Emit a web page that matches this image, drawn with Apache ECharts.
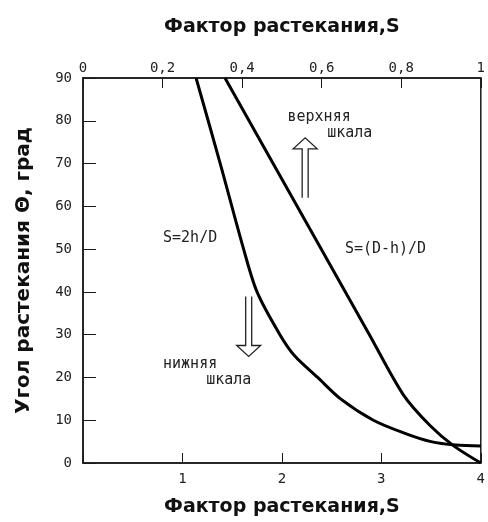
<!DOCTYPE html>
<html>
<head>
<meta charset="utf-8">
<script src="https://cdn.jsdelivr.net/npm/echarts@6/dist/echarts.min.js"></script>
<style>
html, body { margin: 0; padding: 0; background: #fff; }
#chart { width: 488px; height: 522px; }
</style>
</head>
<body>
<div id="chart"></div>
<script>
// нижняя шкала: S=2h/D
const lowS = [1.137, 1.38, 1.615, 1.75, 1.98, 2.13, 2.36, 2.59, 2.92, 3.23, 3.50, 3.75, 4.0];
const lowTheta = [90, 70, 50, 40, 30, 25, 20, 15, 10, 7, 5, 4.2, 4.0];
// верхняя шкала: S=(D-h)/D
const upS = [0.357, 0.720, 0.805, 0.873, 0.932, 1.0];
const upTheta = [90, 30, 16, 8.7, 4.0, 0];

const axisTitle = "Фактор растекания,S";
const yTitle = "Угол растекания \u0398, град";

const ink = "#1a1a1a";
const tickFont = "DejaVu Sans Mono";
const titleFont = { fontFamily: "DejaVu Sans", fontWeight: "bold", fontSize: 19, color: "#111" };

const chart = echarts.init(document.getElementById("chart"));

chart.setOption({
  backgroundColor: "#fff",
  animation: false,
  grid: {
    left: 83,
    right: 4,
    top: 78,
    bottom: 58,
    show: true,
    borderColor: ink,
    borderWidth: 1.5
  },
  xAxis: [
    {
      type: "value",
      position: "bottom",
      min: 0,
      max: 4,
      interval: 1,
      name: axisTitle,
      nameLocation: "middle",
      nameGap: 35,
      nameTextStyle: titleFont,
      axisLine: { lineStyle: { color: ink, width: 1.5 } },
      axisTick: { inside: true, length: 10, lineStyle: { color: ink } },
      axisLabel: {
        margin: 9,
        fontFamily: tickFont,
        fontSize: 14,
        color: "#222",
        formatter: function(v) {
          return v === 0 ? "" : String(v);
        }
      },
      splitLine: { show: false }
    },
    {
      type: "value",
      position: "top",
      min: 0,
      max: 1,
      interval: 0.2,
      name: axisTitle,
      nameLocation: "middle",
      nameGap: 41,
      nameTextStyle: titleFont,
      axisLine: { lineStyle: { color: ink, width: 1.5 } },
      axisTick: { inside: true, length: 10, lineStyle: { color: ink } },
      axisLabel: {
        margin: 3,
        fontFamily: tickFont,
        fontSize: 14,
        color: "#222",
        formatter: function(v) {
          return String(Math.round(v * 10) / 10).replace(".", ",");
        }
      },
      splitLine: { show: false }
    }
  ],
  yAxis: {
    type: "value",
    min: 0,
    max: 90,
    interval: 10,
    name: yTitle,
    nameLocation: "middle",
    nameGap: 49,
    nameTextStyle: Object.assign({}, titleFont, { fontSize: 20 }),
    axisLine: { lineStyle: { color: ink, width: 1.5 } },
    axisTick: { inside: true, length: 13, lineStyle: { color: ink } },
    axisLabel: { margin: 11, fontFamily: tickFont, fontSize: 14, color: "#222" },
    splitLine: { show: false }
  },
  series: [
    {
      name: "S=2h/D",
      type: "line",
      xAxisIndex: 0,
      smooth: 0.3,
      showSymbol: false,
      lineStyle: { color: "#000", width: 3 },
      data: lowS.map((s, i) => [s, lowTheta[i]])
    },
    {
      name: "S=(D-h)/D",
      type: "line",
      xAxisIndex: 1,
      smooth: 0.3,
      showSymbol: false,
      lineStyle: { color: "#000", width: 3 },
      data: upS.map((s, i) => [s, upTheta[i]])
    }
  ]
});

// подписи и стрелки (привязаны к нижней шкале, центр текста)
const notes = [
  { text: "верхняя", at: [2.374, 80.9] },
  { text: "шкала", at: [2.683, 77.2] },
  { text: "S=(D-h)/D", at: [3.042, 49.9] },
  { text: "S=2h/D", at: [1.077, 52.5] },
  { text: "нижняя", at: [1.077, 23.1] },
  { text: "шкала", at: [1.466, 19.4] }
];
const arrows = [
  { tip: [2.234, 76.0], tail: [2.234, 62.0] },
  { tip: [1.666, 24.9], tail: [1.666, 38.9] }
];

function toPx(p) {
  return chart.convertToPixel({ xAxisIndex: 0, yAxisIndex: 0 }, p);
}

const graphics = [];
notes.forEach(function(n) {
  const p = toPx(n.at);
  graphics.push({
    type: "text",
    x: p[0],
    y: p[1],
    style: {
      text: n.text,
      fill: "#222",
      font: "15px " + tickFont,
      textAlign: "center",
      textVerticalAlign: "middle"
    }
  });
});
arrows.forEach(function(a) {
  const tip = toPx(a.tip);
  const tail = toPx(a.tail);
  const dir = tail[1] > tip[1] ? 1 : -1; // 1: стрелка вверх
  const hb = tip[1] + dir * 11;
  const x = tip[0];
  graphics.push({
    type: "polyline",
    shape: {
      points: [
        [x - 3, tail[1]], [x - 3, hb], [x - 12, hb], [x, tip[1]],
        [x + 12, hb], [x + 3, hb], [x + 3, tail[1]]
      ]
    },
    style: { stroke: "#222", lineWidth: 1.3, fill: null }
  });
});
chart.setOption({ graphic: graphics });
</script>
</body>
</html>
